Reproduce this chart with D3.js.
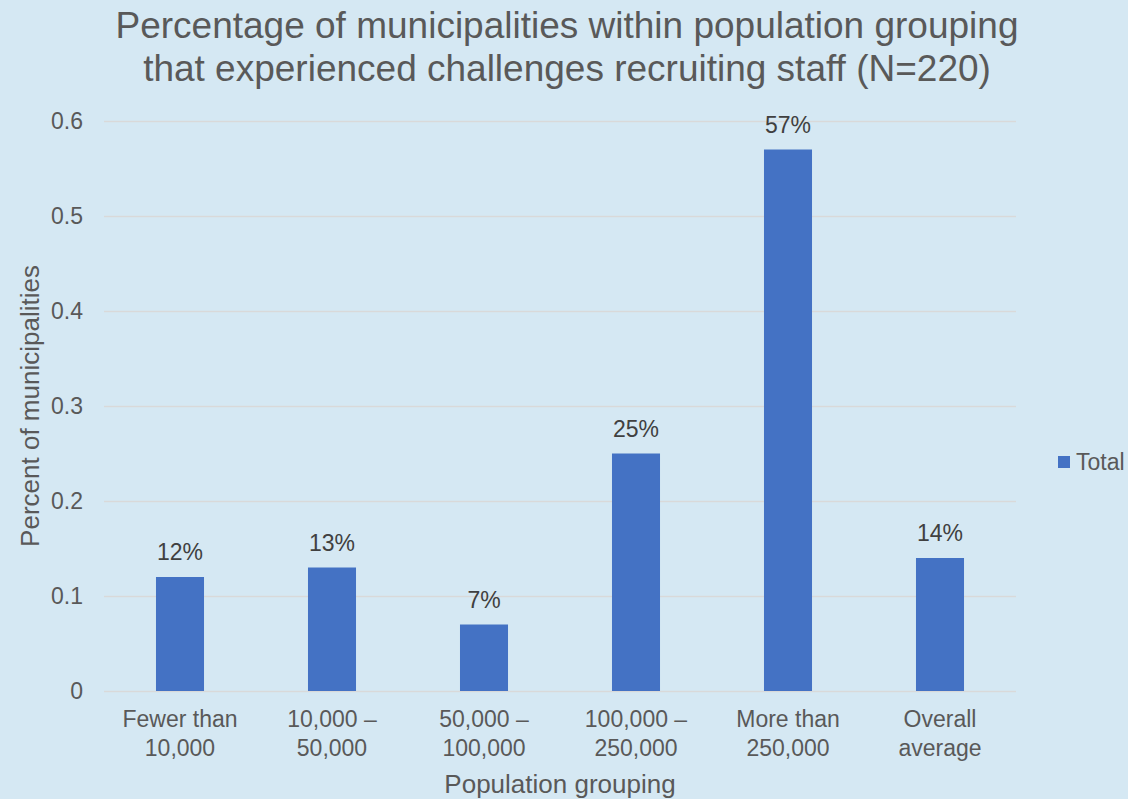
<!DOCTYPE html>
<html>
<head>
<meta charset="utf-8">
<script src="https://cdn.jsdelivr.net/npm/d3@7"></script>
<style>
  body { margin: 0; background: #d5e8f3; }
  svg { display: block; font-family: "Liberation Sans", Arial, sans-serif; }
</style>
</head>
<body>
<div id="chart"></div>
<script>
// DATA
const categories = [
  ["Fewer than", "10,000"],
  ["10,000 \u2013", "50,000"],
  ["50,000 \u2013", "100,000"],
  ["100,000 \u2013", "250,000"],
  ["More than", "250,000"],
  ["Overall", "average"]
]
const totals = [0.12, 0.13, 0.07, 0.25, 0.57, 0.14]
const yTicks = [0, 0.1, 0.2, 0.3, 0.4, 0.5, 0.6]
const titleLines = [
  "Percentage of municipalities within population grouping",
  "that experienced challenges recruiting staff (N=220)"
]

const width = 1128, height = 799
const margin = {left: 104, right: 112, top: 121, bottom: 108}
const textColor = "#595959"

const data = categories.map((c, i) => ({key: c.join(" "), lines: c, value: totals[i]}))

const svg = d3.select("#chart")
  .append("svg")
  .attr("width", width)
  .attr("height", height)

svg.append("rect")
  .attr("width", width)
  .attr("height", height)
  .attr("fill", "#d5e8f3")

const xScale = d3.scaleBand()
  .domain(data.map(d => d.key))
  .range([margin.left, width - margin.right])
  .paddingInner(0.684)
  .paddingOuter(0.342)

const yScale = d3.scaleLinear()
  .domain([0, 0.6])
  .range([height - margin.bottom, margin.top])

// TITLE
svg.append("text")
  .attr("x", 567)
  .attr("y", 38)
  .attr("text-anchor", "middle")
  .attr("fill", textColor)
  .attr("font-size", 37)
  .selectAll("tspan")
  .data(titleLines)
  .join("tspan")
    .attr("x", 567)
    .attr("dy", (d, i) => i === 0 ? 0 : 43)
    .text(d => d)

// GRID + Y AXIS
const yAxis = svg.append("g")
  .attr("transform", `translate(${margin.left},0)`)
  .call(d3.axisLeft(yScale)
    .tickValues(yTicks)
    .tickFormat(d => d === 0 ? "0" : d3.format(".1f")(d))
    .tickSize(-(width - margin.left - margin.right))
    .tickPadding(21))
yAxis.select(".domain").remove()
yAxis.selectAll(".tick line")
  .attr("stroke", "#d9d9d9")
  .attr("stroke-width", 1.5)
yAxis.selectAll(".tick text")
  .attr("fill", textColor)
  .attr("font-size", 23)
  .attr("font-family", "Liberation Sans, Arial, sans-serif")

// BARS
svg.selectAll("rect.bar")
  .data(data)
  .join("rect")
    .attr("class", "bar")
    .attr("x", d => xScale(d.key))
    .attr("y", d => yScale(d.value))
    .attr("width", xScale.bandwidth())
    .attr("height", d => yScale(0) - yScale(d.value))
    .attr("fill", "#4472c4")

// DATA LABELS
svg.selectAll("text.label")
  .data(data)
  .join("text")
    .attr("class", "label")
    .attr("x", d => xScale(d.key) + xScale.bandwidth() / 2)
    .attr("y", d => yScale(d.value) - 17)
    .attr("text-anchor", "middle")
    .attr("fill", "#404040")
    .attr("font-size", 23)
    .text(d => d3.format(".0%")(d.value))

// X AXIS LABELS
const xLabels = svg.selectAll("text.xlab")
  .data(data)
  .join("text")
    .attr("class", "xlab")
    .attr("text-anchor", "middle")
    .attr("fill", textColor)
    .attr("font-size", 23)
    .attr("y", 727)
xLabels.selectAll("tspan")
  .data(d => d.lines.map(l => ({l, x: xScale(d.key) + xScale.bandwidth() / 2})))
  .join("tspan")
    .attr("x", d => d.x)
    .attr("dy", (d, i) => i === 0 ? 0 : 29)
    .text(d => d.l)

// AXIS TITLES
svg.append("text")
  .attr("x", 560)
  .attr("y", 793)
  .attr("text-anchor", "middle")
  .attr("fill", textColor)
  .attr("font-size", 26)
  .text("Population grouping")

svg.append("text")
  .attr("transform", "translate(39,406) rotate(-90)")
  .attr("text-anchor", "middle")
  .attr("fill", textColor)
  .attr("font-size", 26)
  .text("Percent of municipalities")

// LEGEND
const legend = svg.append("g").attr("transform", "translate(1058,456)")
legend.append("rect")
  .attr("width", 12)
  .attr("height", 12)
  .attr("fill", "#4472c4")
legend.append("text")
  .attr("x", 18)
  .attr("y", 14)
  .attr("fill", textColor)
  .attr("font-size", 23)
  .text("Total")
</script>
</body>
</html>
